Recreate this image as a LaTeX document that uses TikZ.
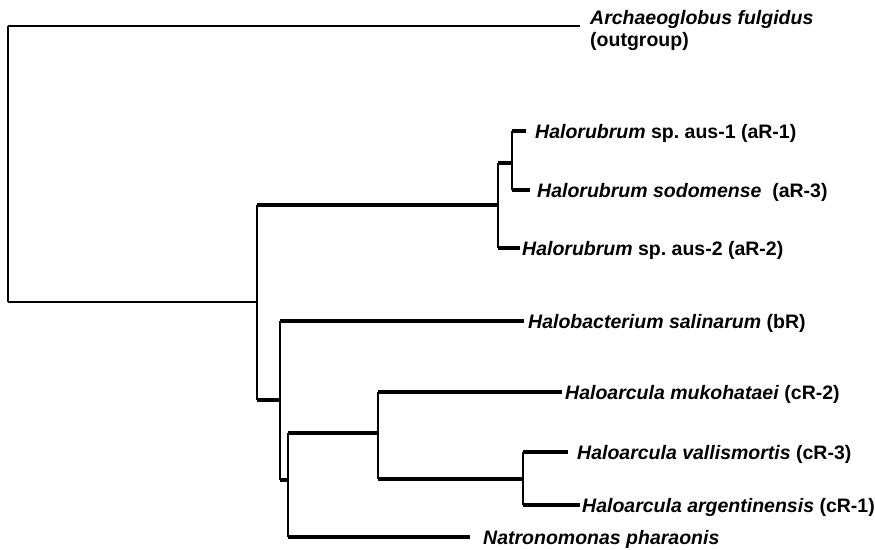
\documentclass[tikz,border=0pt]{standalone}
\usepackage{fontspec}
\setmainfont{Liberation Sans}
\begin{document}
\begin{tikzpicture}[x=1pt,y=-1pt,
  thinbr/.style={line width=1.8pt},
  thickbr/.style={line width=4.4pt},
  lbl/.style={anchor=west,inner sep=0pt,text height=14pt,text depth=0pt,
              font=\fontsize{19.5}{22}\selectfont\bfseries}]
\useasboundingbox (0,0) rectangle (875,549);

% internal nodes (x = vertical line, y = where the parent branch joins)
\coordinate (Root) at (8,164);
\coordinate (A)  at (257,302);
\coordinate (R1) at (498,205);
\coordinate (R2) at (512,163);
\coordinate (B)  at (280,400);
\coordinate (C)  at (288,480);
\coordinate (D)  at (378,433);
\coordinate (E)  at (523,479);
\coordinate (arcEnd) at (580,26);

% leaf labels
\node[anchor=north west,inner sep=0pt,align=left,font=\fontsize{19.5}{22}\selectfont\bfseries]
  (arcL) at (590,10) {\textit{Archaeoglobus fulgidus}\\(outgroup)};
\node[lbl] (aus1L) at (535,131) {\textit{Halorubrum} sp.\ aus-1 (aR-1)};
\node[lbl] (sodL)  at (537,190) {\textit{Halorubrum sodomense}\ \ (aR-3)};
\node[lbl] (aus2L) at (522,248) {\textit{Halorubrum} sp.\ aus-2 (aR-2)};
\node[lbl] (halL)  at (528,321) {\textit{Halobacterium salinarum} (bR)};
\node[lbl] (mukL)  at (565,392) {\textit{Haloarcula mukohataei} (cR-2)};
\node[lbl] (valL)  at (577,452) {\textit{Haloarcula vallismortis} (cR-3)};
\node[lbl] (argL)  at (582,505) {\textit{Haloarcula argentinensis} (cR-1)};
\node[lbl] (natL)  at (483,537) {\textit{Natronomonas pharaonis}};

% root
\draw[thinbr] (Root |- arcEnd) -- (Root |- A);
\draw[thinbr] (Root |- arcEnd) -- (arcEnd);
\draw[thinbr] (Root |- A) -- (A);

% clade A
\draw[thinbr] (A |- R1) -- (A |- B);
\draw[thickbr] (A |- R1) -- (R1);
\draw[thickbr] (A |- B) -- (B);

% Halorubrum clade
\draw[thinbr] (R1 |- R2) -- (R1 |- aus2L.west);
\draw[thickbr] (R1 |- R2) -- (R2);
\draw[thickbr,shorten >=2pt] (R1 |- aus2L.west) -- (aus2L.west);
\draw[thinbr] (R2 |- aus1L.west) -- (R2 |- sodL.west);
\draw[thickbr,shorten >=9pt] (R2 |- aus1L.west) -- (aus1L.west);
\draw[thickbr,shorten >=7pt] (R2 |- sodL.west) -- (sodL.west);

% clade B
\draw[thinbr] (B |- halL.west) -- (B |- C);
\draw[thickbr,shorten >=4pt] (B |- halL.west) -- (halL.west);
\draw[thickbr] (B |- C) -- (C);

% clade C
\draw[thinbr] (C |- D) -- (C |- natL.west);
\draw[thickbr] (C |- D) -- (D);
\draw[thickbr,shorten >=13pt] (C |- natL.west) -- (natL.west);

% clade D
\draw[thinbr] (D |- mukL.west) -- (D |- E);
\draw[thickbr,shorten >=3pt] (D |- mukL.west) -- (mukL.west);
\draw[thickbr] (D |- E) -- (E);

% clade E
\draw[thinbr] (E |- valL.west) -- (E |- argL.west);
\draw[thickbr,shorten >=9pt] (E |- valL.west) -- (valL.west);
\draw[thickbr,shorten >=2pt] (E |- argL.west) -- (argL.west);
\end{tikzpicture}
\end{document}
